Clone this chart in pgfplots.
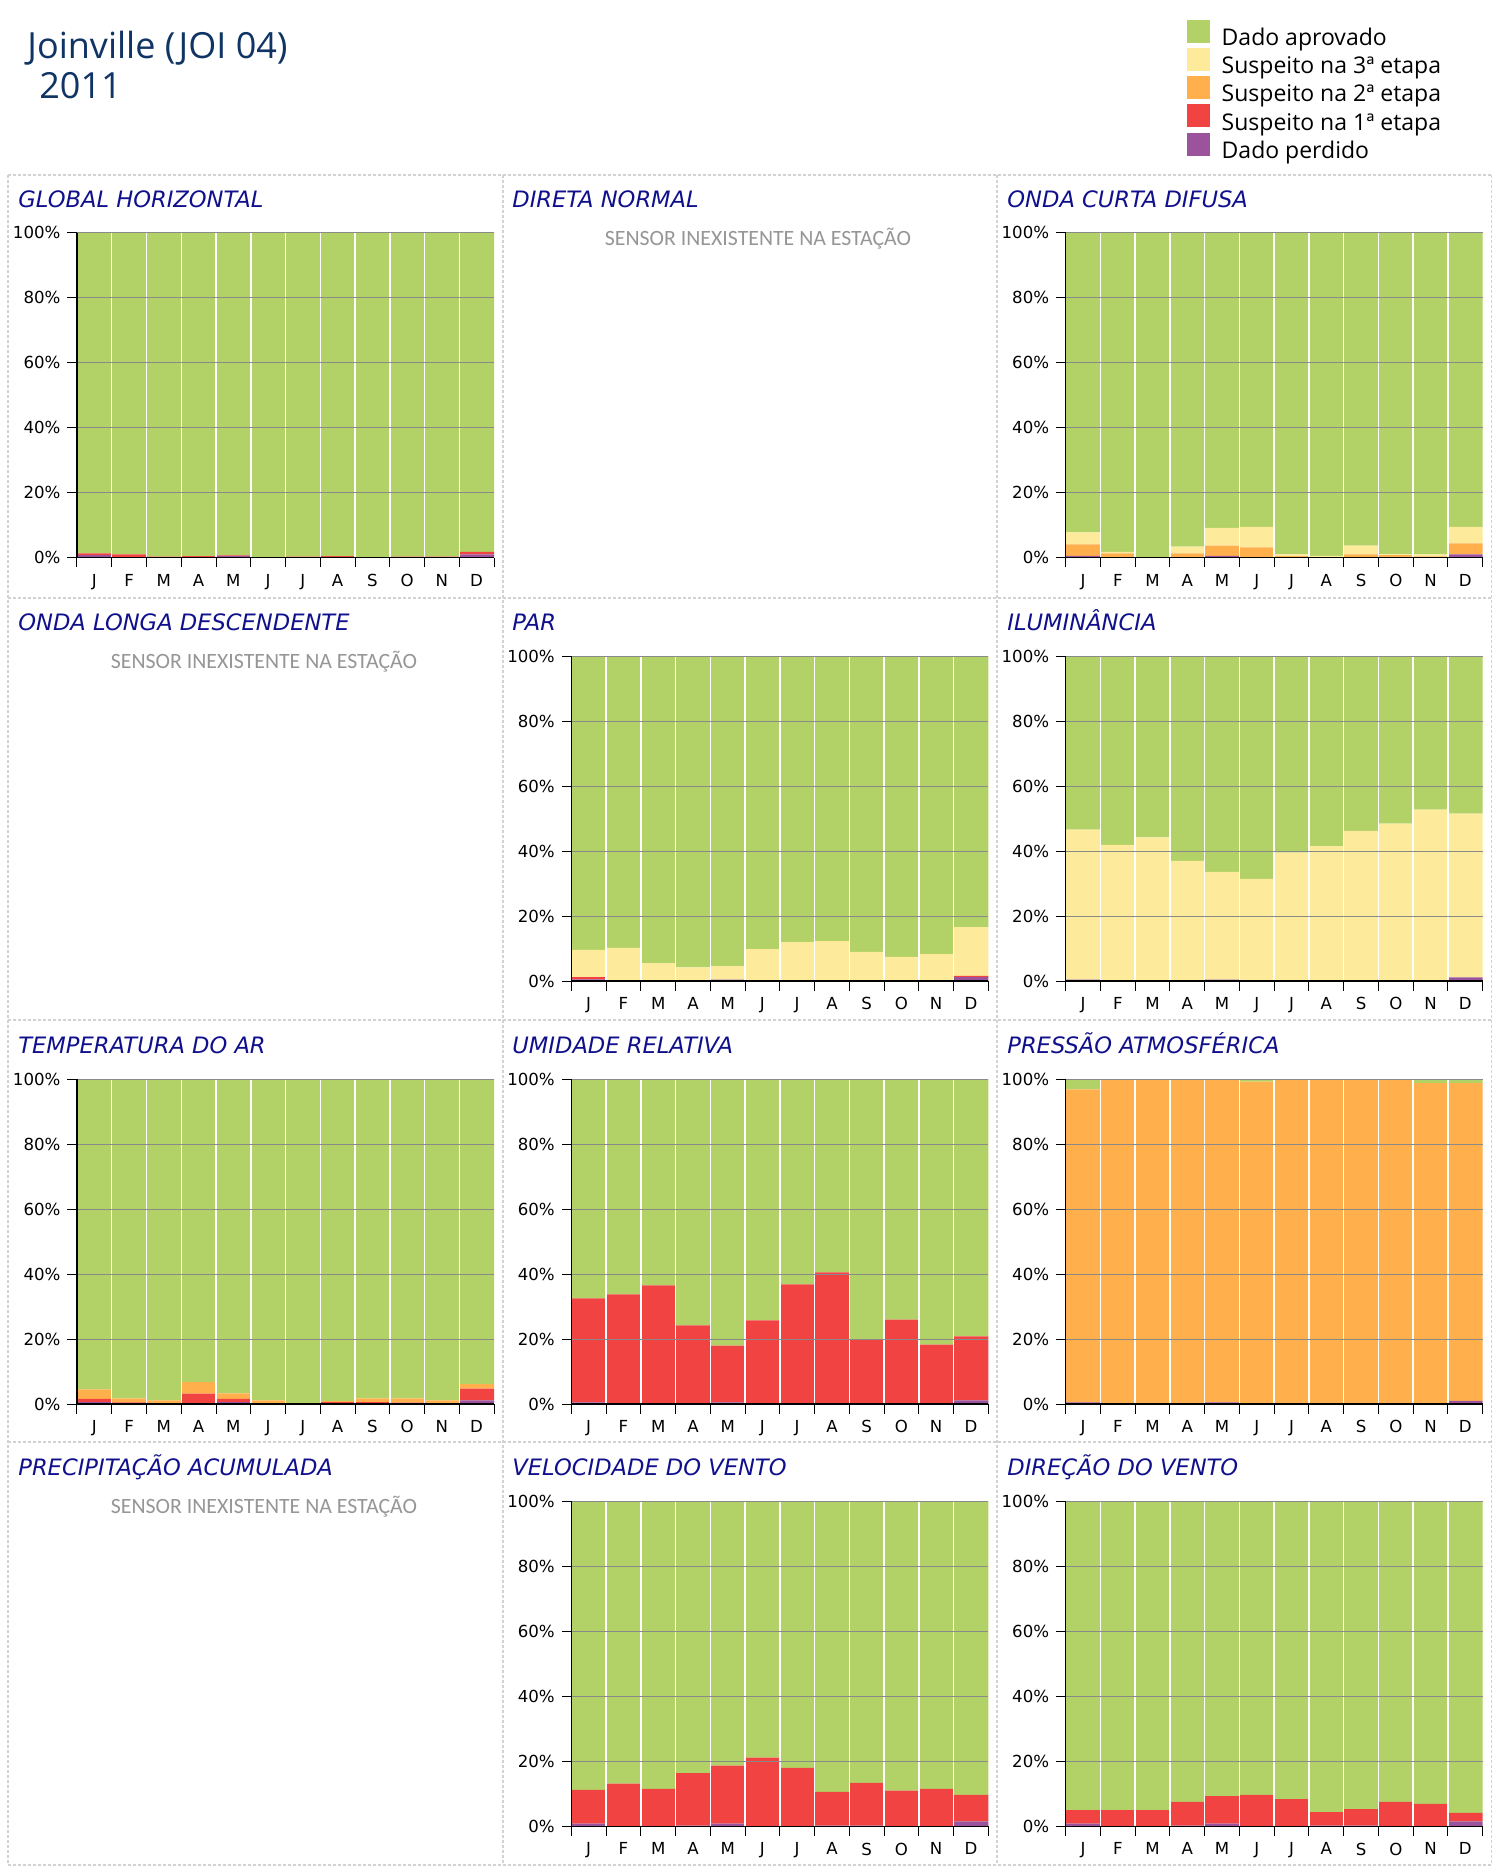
\documentclass[border=0pt]{standalone}
\usepackage{fontspec}
\setmainfont{DejaVu Sans}
\newfontfamily\titlefont{Open Sans}
\newfontfamily\sensorfont{Carlito}
\usepackage{pgfplots}
\pgfplotsset{compat=1.18}
\usepackage{pgfplotstable}

\definecolor{qapr}{RGB}{178,209,102}
\definecolor{qthree}{RGB}{253,235,155}
\definecolor{qtwo}{RGB}{255,176,77}
\definecolor{qone}{RGB}{242,67,67}
\definecolor{qlost}{RGB}{155,84,156}
\definecolor{gridgray}{RGB}{138,138,138}
\definecolor{titleblue}{RGB}{16,52,99}
\definecolor{panelblue}{RGB}{16,16,140}
\definecolor{sensorgray}{RGB}{150,150,150}
\definecolor{bordergray}{RGB}{210,210,210}

% columns: x, perdido, 1a, 2a, 3a etapa, aprovado (%)
\pgfplotstableread{
x pe s1 s2 s3 ap
0.5 0.8 0.5 0 0 98.7
1.5 0.1 0.9 0 0 99.0
2.5 0 0.3 0 0 99.7
3.5 0.1 0.4 0 0 99.5
4.5 0.6 0.1 0 0 99.3
5.5 0 0.1 0 0 99.9
6.5 0 0.3 0 0 99.7
7.5 0.1 0.4 0 0 99.5
8.5 0 0.2 0 0 99.8
9.5 0 0.3 0 0 99.7
10.5 0 0.3 0 0 99.7
11.5 1.0 0.8 0 0 98.2
}\tGH

\pgfplotstableread{
x pe s1 s2 s3 ap
0.5 0.6 0 3.5 3.7 92.2
1.5 0 0 1.3 0.5 98.2
2.5 0 0 0.1 0.1 99.8
3.5 0 0 1.3 2.1 96.6
4.5 0.6 0 3.1 5.5 90.8
5.5 0 0 3.2 6.3 90.5
6.5 0 0 0.5 0.5 99.0
7.5 0 0 0.2 0.4 99.4
8.5 0 0 1.0 2.7 96.3
9.5 0 0 0.8 0.2 99.0
10.5 0 0 0.4 0.6 99.0
11.5 1.0 0 3.4 5.1 90.5
}\tOCD

\pgfplotstableread{
x pe s1 s2 s3 ap
0.5 0.5 0.7 0 8.4 90.4
1.5 0 0 0.2 10.0 89.8
2.5 0 0 0 5.5 94.5
3.5 0 0 0 4.2 95.8
4.5 0.4 0 0 4.2 95.4
5.5 0 0 0 9.8 90.2
6.5 0 0 0 12.0 88.0
7.5 0 0 0.1 12.2 87.7
8.5 0 0 0 9.0 91.0
9.5 0 0 0 7.4 92.6
10.5 0 0 0 8.3 91.7
11.5 1.2 0.4 0 15.0 83.4
}\tPAR

\pgfplotstableread{
x pe s1 s2 s3 ap
0.5 0.4 0 0 46.2 53.4
1.5 0 0 0 41.9 58.1
2.5 0 0 0 44.2 55.8
3.5 0.2 0 0 36.8 63.0
4.5 0.4 0 0 33.2 66.4
5.5 0 0 0 31.4 68.6
6.5 0 0 0 39.5 60.5
7.5 0 0 0 41.5 58.5
8.5 0.2 0 0 46.0 53.8
9.5 0 0 0 48.4 51.6
10.5 0 0 0 52.7 47.3
11.5 1.1 0 0 50.4 48.5
}\tILU

\pgfplotstableread{
x pe s1 s2 s3 ap
0.5 0.6 1.0 2.9 0 95.5
1.5 0 0.5 1.2 0 98.3
2.5 0 0 1.1 0 98.9
3.5 0 3.2 3.5 0 93.3
4.5 0.6 1.0 1.7 0 96.7
5.5 0 0 1.1 0 98.9
6.5 0 0 0 0 100
7.5 0 0.6 0.3 0 99.1
8.5 0 0.6 1.1 0 98.3
9.5 0 0.4 1.3 0 98.3
10.5 0 0 1.1 0 98.9
11.5 1.1 3.6 1.4 0 93.9
}\tTEMP

\pgfplotstableread{
x pe s1 s2 s3 ap
0.5 0.5 32.0 0 0 67.5
1.5 0 33.7 0 0 66.3
2.5 0 36.5 0 0 63.5
3.5 0.2 24.0 0 0 75.8
4.5 0.5 17.5 0 0 82.0
5.5 0 25.7 0 0 74.3
6.5 0 36.8 0 0 63.2
7.5 0.2 40.3 0 0 59.5
8.5 0.2 19.5 0 0 80.3
9.5 0 26.0 0 0 74.0
10.5 0 18.3 0 0 81.7
11.5 1.1 19.7 0 0 79.2
}\tUR

\pgfplotstableread{
x pe s1 s2 s3 ap
0.5 0.5 0 96.3 0 3.2
1.5 0 0 100 0 0
2.5 0 0 100 0 0
3.5 0.2 0 99.8 0 0
4.5 0.5 0 99.5 0 0
5.5 0 0 99.2 0 0.8
6.5 0 0 100 0 0
7.5 0.2 0 99.8 0 0
8.5 0.2 0 99.8 0 0
9.5 0 0 100 0 0
10.5 0 0 98.7 0 1.3
11.5 1.0 0 97.7 0 1.3
}\tPRES

\pgfplotstableread{
x pe s1 s2 s3 ap
0.5 0.8 10.4 0 0 88.8
1.5 0 13.1 0 0 86.9
2.5 0 11.5 0 0 88.5
3.5 0.2 16.2 0 0 83.6
4.5 0.8 17.9 0 0 81.3
5.5 0 21.1 0 0 78.9
6.5 0 18.0 0 0 82.0
7.5 0.2 10.4 0 0 89.4
8.5 0.2 13.2 0 0 86.6
9.5 0 11.0 0 0 89.0
10.5 0 11.5 0 0 88.5
11.5 1.5 8.2 0 0 90.3
}\tVV

\pgfplotstableread{
x pe s1 s2 s3 ap
0.5 0.8 4.2 0 0 95.0
1.5 0 5.0 0 0 95.0
2.5 0 5.0 0 0 95.0
3.5 0.2 7.3 0 0 92.5
4.5 0.8 8.5 0 0 90.7
5.5 0 9.7 0 0 90.3
6.5 0 8.4 0 0 91.6
7.5 0.2 4.2 0 0 95.6
8.5 0.2 5.1 0 0 94.7
9.5 0 7.5 0 0 92.5
10.5 0 6.9 0 0 93.1
11.5 1.5 2.6 0 0 95.9
}\tDV

\pgfplotsset{
  qbar/.style={fill=#1, draw=none,
    legend image code/.code={\fill[fill=#1] (0pt,-1.65pt) rectangle (11.5pt,9.85pt);}},
  qaxis/.style={
    anchor=north west, scale only axis,
    width=208.5pt, height=162.5pt,
    ybar stacked, bar width=1,
    xmin=0, xmax=12, ymin=0, ymax=100, enlargelimits=false,
    axis on top,
    axis lines*=left, tick pos=left,
    axis line style={-, black, line width=0.6pt},
    xtick={0,...,12}, x tick label as interval,
    xticklabels={J,F,M,A,M,J,J,A,S,O,N,D},
    ytick={0,20,...,100},
    yticklabels={0\%,20\%,40\%,60\%,80\%,100\%},
    minor xtick={1,...,11},
    xminorgrids, minor x grid style={white, line width=0.75pt},
    ymajorgrids, y grid style={gridgray, line width=0.5pt},
    tick align=outside, major tick length=4.75pt, minor tick length=0pt,
    tick style={black, line width=0.5pt},
    ticklabel style={font=\fontsize{8.3}{10}\selectfont},
  },
}

\newcommand{\stackbars}[1]{%
  \addplot[qbar=qlost] table[x=x,y=pe]{#1};
  \addplot[qbar=qone] table[x=x,y=s1]{#1};
  \addplot[qbar=qtwo] table[x=x,y=s2]{#1};
  \addplot[qbar=qthree] table[x=x,y=s3]{#1};
  \addplot[qbar=qapr] table[x=x,y=ap]{#1};
}

\begin{document}
\begin{tikzpicture}
\fill[white, use as bounding box] (0,0) rectangle (750pt,-937pt);

\begin{scope}[x=0.5pt, y=-0.5pt]
  % panel borders
  \foreach \yy in {175,598,1020,1442,1865}
    \draw[bordergray, line width=0.75pt, dash pattern=on 1.5pt off 1pt] (8,\yy) -- (1491.5,\yy);
  \foreach \xx in {8,503,997,1491.5}
    \draw[bordergray, line width=0.75pt, dash pattern=on 1.5pt off 1pt] (\xx,175) -- (\xx,1865);

  % header
  \node[anchor=base west, inner sep=0, text=titleblue, font=\titlefont\fontsize{18}{21}\selectfont] at (27,58) {Joinville (JOI 04)};
  \node[anchor=base west, inner sep=0, text=titleblue, font=\titlefont\fontsize{18}{21}\selectfont] at (39,98) {2011};

  % panel titles
  \tikzset{ptitle/.style={anchor=base west, inner sep=0, text=panelblue, font=\fontsize{11.3}{13}\selectfont\itshape}}
  \node[ptitle] at (18,207.2) {GLOBAL HORIZONTAL};
  \node[ptitle] at (512,207.2) {DIRETA NORMAL};
  \node[ptitle] at (1007,207.2) {ONDA CURTA DIFUSA};
  \node[ptitle] at (18,630.5) {ONDA LONGA DESCENDENTE};
  \node[ptitle] at (512,630.5) {PAR};
  \node[ptitle] at (1007,630.5) {ILUMINÂNCIA};
  \node[ptitle] at (18,1053.5) {TEMPERATURA DO AR};
  \node[ptitle] at (512,1053.5) {UMIDADE RELATIVA};
  \node[ptitle] at (1007,1053.5) {PRESSÃO ATMOSFÉRICA};
  \node[ptitle] at (18,1475.8) {PRECIPITAÇÃO ACUMULADA};
  \node[ptitle] at (512,1475.8) {VELOCIDADE DO VENTO};
  \node[ptitle] at (1007,1475.8) {DIREÇÃO DO VENTO};

  % panels without sensor
  \tikzset{nosensor/.style={anchor=base, inner sep=0, text=sensorgray, font=\sensorfont\fontsize{10.9}{13}\selectfont}}
  \node[nosensor] at (758,245) {SENSOR INEXISTENTE NA ESTAÇÃO};
  \node[nosensor] at (264,668.3) {SENSOR INEXISTENTE NA ESTAÇÃO};
  \node[nosensor] at (264,1513.6) {SENSOR INEXISTENTE NA ESTAÇÃO};
\end{scope}

% row 1
\begin{axis}[qaxis, at={(38.5pt,-116.35pt)}]
  \stackbars{\tGH}
\end{axis}
\begin{axis}[qaxis, at={(532.85pt,-116.35pt)},
    legend entries={Dado perdido, Suspeito na 1ª etapa, Suspeito na 2ª etapa, Suspeito na 3ª etapa, Dado aprovado},
    reverse legend, legend cell align=left,
    legend style={at={(axis description cs:0.2909,1.656)}, anchor=north west,
      draw=none, fill=none, inner sep=0pt, outer sep=0pt,
      column sep=5.85pt, row sep=-2.7pt,
      font=\titlefont\fontsize{11.5}{14}\selectfont,
      nodes={inner sep=0pt, text height=10pt, text depth=4pt}}]
  \stackbars{\tOCD}
\end{axis}

% row 2
\begin{axis}[qaxis, at={(285.65pt,-328pt)}]
  \stackbars{\tPAR}
\end{axis}
\begin{axis}[qaxis, at={(532.85pt,-328pt)}]
  \stackbars{\tILU}
\end{axis}

% row 3
\begin{axis}[qaxis, at={(38.5pt,-539.5pt)}]
  \stackbars{\tTEMP}
\end{axis}
\begin{axis}[qaxis, at={(285.65pt,-539.5pt)}]
  \stackbars{\tUR}
\end{axis}
\begin{axis}[qaxis, at={(532.85pt,-539.5pt)}]
  \stackbars{\tPRES}
\end{axis}

% row 4
\begin{axis}[qaxis, at={(285.65pt,-750.65pt)}]
  \stackbars{\tVV}
\end{axis}
\begin{axis}[qaxis, at={(532.85pt,-750.65pt)}]
  \stackbars{\tDV}
\end{axis}
\end{tikzpicture}
\end{document}
